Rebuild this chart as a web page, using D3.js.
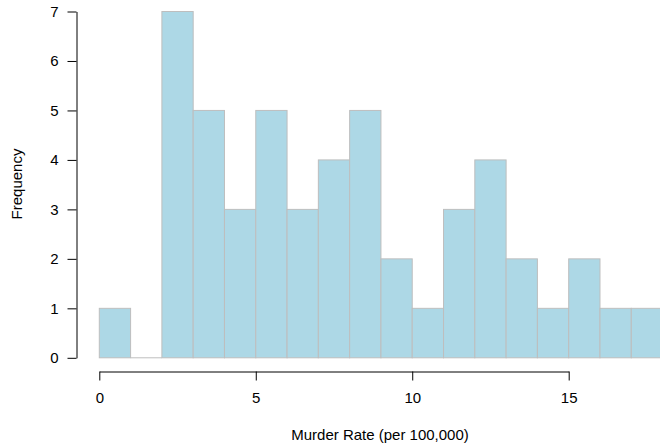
<!DOCTYPE html>
<html>
<head>
<meta charset="utf-8">
<script src="https://cdn.jsdelivr.net/npm/d3@7"></script>
<style>
  body { margin: 0; background: #fff; }
  text { font-family: "Liberation Sans", Arial, sans-serif; }
</style>
</head>
<body>
<div id="chart"></div>
<script>
// histogram bins (lower edge) and counts
var binStarts = [0, 1, 2, 3, 4, 5, 6, 7, 8, 9, 10, 11, 12, 13, 14, 15, 16, 17];
var counts    = [1, 0, 7, 5, 3, 5, 3, 4, 5, 2, 1, 3, 4, 2, 1, 2, 1, 1];
var xTicks = [0, 5, 10, 15];
var yTicks = [0, 1, 2, 3, 4, 5, 6, 7];

var width = 660, height = 444;

var svg = d3.select("#chart")
    .append("svg")
    .attr("width", width)
    .attr("height", height);

var x = d3.scaleLinear()
    .domain([0, 15])
    .range([99.3, 568.7]);

var y = d3.scaleLinear()
    .domain([0, 7])
    .range([357.8, 11.5]);

// bars
svg.append("g")
    .selectAll("rect")
    .data(binStarts)
    .enter()
    .append("rect")
    .attr("x", function (d) { return x(d); })
    .attr("y", function (d, i) { return y(counts[i]); })
    .attr("width", function (d) { return x(d + 1) - x(d); })
    .attr("height", function (d, i) { return y(0) - y(counts[i]); })
    .style("fill", "#add8e6")
    .style("stroke", "#bebebe")
    .style("stroke-width", 1);

// empty bins still show a gray baseline
svg.append("g")
    .selectAll("line")
    .data(binStarts.filter(function (d, i) { return counts[i] === 0; }))
    .enter()
    .append("line")
    .attr("x1", function (d) { return x(d); })
    .attr("x2", function (d) { return x(d + 1); })
    .attr("y1", y(0))
    .attr("y2", y(0))
    .style("stroke", "#bebebe");

// Y axis
var yAxis = svg.append("g")
    .attr("transform", "translate(76.5,0)")
    .call(d3.axisLeft(y).tickValues(yTicks).tickFormat(d3.format("d"))
        .tickSize(9).tickPadding(9).tickSizeOuter(0));
yAxis.select(".domain").attr("stroke", "#000");
yAxis.selectAll("text").style("font-size", "15px").attr("fill", "#000");

// X axis
var xAxis = svg.append("g")
    .attr("transform", "translate(0,371.5)")
    .call(d3.axisBottom(x).tickValues(xTicks).tickFormat(d3.format("d"))
        .tickSize(9).tickPadding(12).tickSizeOuter(0));
xAxis.select(".domain").attr("stroke", "#000");
xAxis.selectAll("text").style("font-size", "15px").attr("fill", "#000");

// axis titles
svg.append("text")
    .attr("x", 380)
    .attr("y", 440)
    .attr("text-anchor", "middle")
    .style("font-size", "15px")
    .text("Murder Rate (per 100,000)");

svg.append("text")
    .attr("transform", "translate(22,184) rotate(-90)")
    .attr("text-anchor", "middle")
    .style("font-size", "15px")
    .text("Frequency");
</script>
</body>
</html>
